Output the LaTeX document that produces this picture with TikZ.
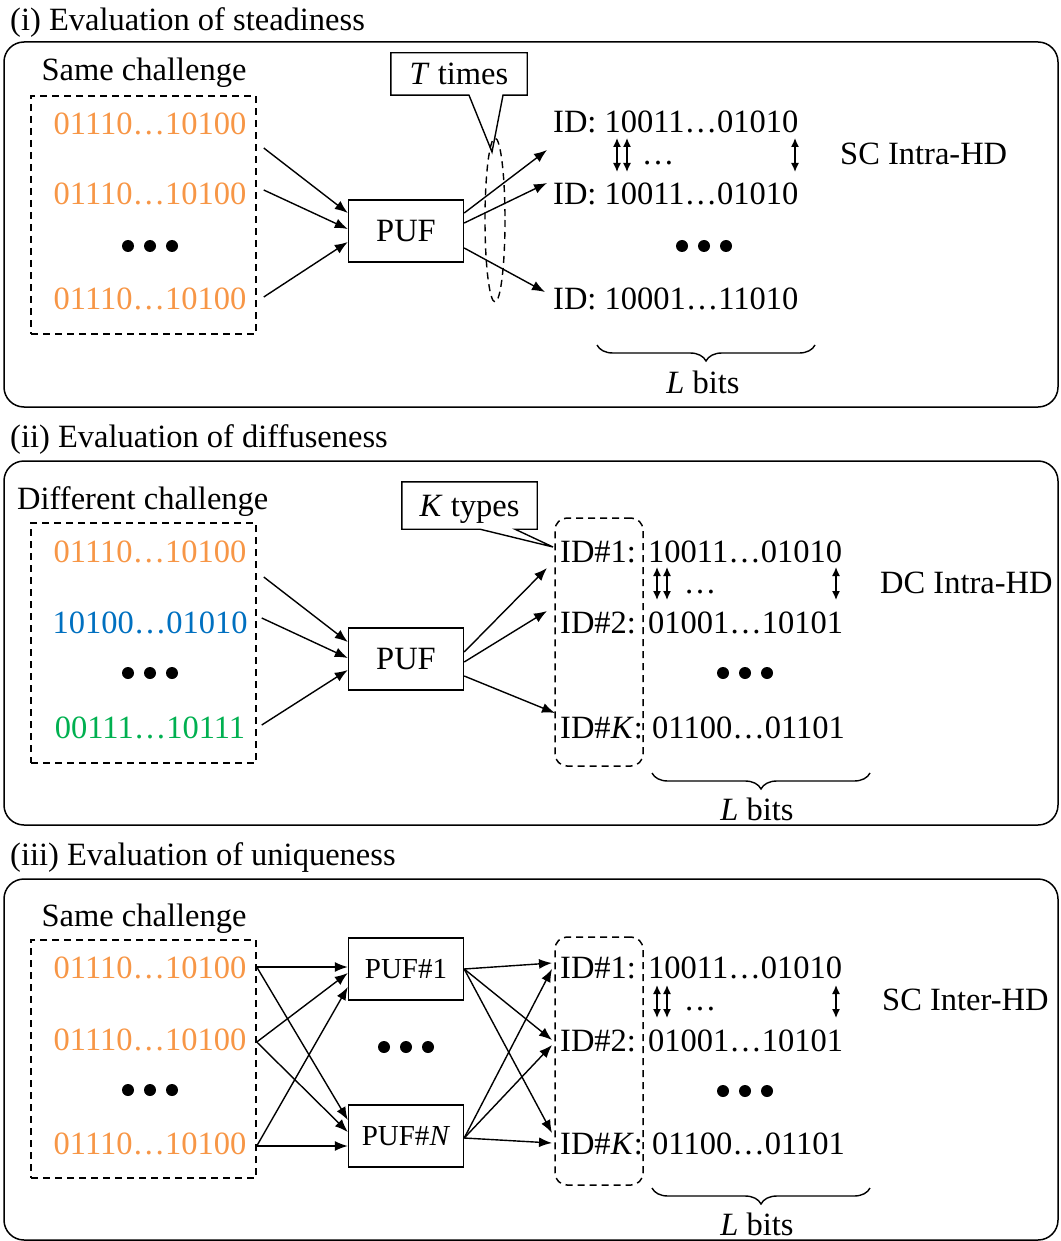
\documentclass[tikz,border=0pt]{standalone}
\usepackage{fontspec}
\setmainfont{Liberation Serif}
\usetikzlibrary{arrows.meta,decorations.pathreplacing}
\definecolor{bitorange}{HTML}{F79646}
\definecolor{bitblue}{HTML}{0070C0}
\definecolor{bitgreen}{HTML}{00B050}
\newcommand{\threedots}[1]{\foreach \dx in {-22,0,22} \fill ([xshift=\dx pt]#1) circle (6pt);}
\tikzset{
  panel/.style={line width=1.5pt,rounded corners=20pt},
  txt/.style={inner sep=0pt,anchor=base},
  chalbox/.style={draw,dashed,line width=1.5pt,dash pattern=on 7pt off 5pt,minimum width=225pt,inner sep=0pt},
  idbox/.style={draw,dashed,line width=1.5pt,dash pattern=on 7pt off 5pt,rounded corners=12pt,minimum width=88pt,inner sep=0pt},
  pufbox/.style={draw,line width=1.4pt,minimum width=115pt,minimum height=62pt,inner sep=0pt},
  callout/.style={inner sep=0pt,text depth=0pt},
  arr/.style={-{Latex[length=13pt,width=10pt]},line width=1.4pt},
  dbl/.style={{Latex[length=9pt,width=8pt]}-{Latex[length=9pt,width=8pt]},line width=1.4pt},
  lbrace/.style={decorate,decoration={brace,mirror,amplitude=16pt},line width=1.4pt}
}
\begin{document}
\begin{tikzpicture}[x=1pt,y=-1pt,font=\fontsize{32.5}{39}\selectfont]
    \useasboundingbox (0,0) rectangle (1060,1241);
    %% (i) steadiness
    \node[txt,anchor=base west] (tit1) at (10,31) {(i) Evaluation of steadiness};
    \draw[panel] (4,42) rectangle (1058,407);
    \node[txt] (same1) at (144,81) {Same challenge};
    \node[chalbox,minimum height=238pt] (chal1) at (143.5,215) {};
    \node[txt,text=bitorange] (c11) at (150,135) {01110…10100};
    \node[txt,text=bitorange] (c12) at (150,205) {01110…10100};
    \node[txt,text=bitorange] (c13) at (150,309) {01110…10100};
    \threedots{150,246}
    \node[pufbox] (puf1) at (406,231) {PUF};
    \draw[arr] ([xshift=7pt,yshift=67pt]chal1.east) -- ([yshift=18pt]puf1.west);
    \draw[arr] ([xshift=7pt,yshift=25pt]chal1.east) -- ([yshift=2pt]puf1.west);
    \draw[arr] ([xshift=7pt,yshift=-82pt]chal1.east) -- ([yshift=-11pt]puf1.west);
    \node[txt,anchor=base west] (id11) at (553,133) {ID: 10011…01010};
    \node[txt,anchor=base west] (id12) at (553,205) {ID: 10011…01010};
    \node[txt,anchor=base west] (id13) at (553,309) {ID: 10001…11010};
    \threedots{704,246}
    \draw[arr] ([yshift=18pt]puf1.east) -- ([xshift=-6pt,yshift=-17pt]id11.base west);
    \draw[arr] ([yshift=8pt]puf1.east) -- ([xshift=-6pt,yshift=22pt]id12.base west);
    \draw[arr] ([yshift=-17pt]puf1.east) -- ([xshift=-8pt,yshift=17pt]id13.base west);
    \draw[line width=1.4pt,dashed,dash pattern=on 7pt off 5pt] (495,220) ellipse [x radius=10, y radius=82];
    \node[callout,minimum width=136pt,minimum height=42pt] (ttimes) at (459,74) {\textit{T} times};
    \coordinate (ttip) at (492,152);
    \draw[line width=1.4pt] (ttimes.north west) -- (ttimes.north east) -- (ttimes.south east)
        -- ([xshift=44pt]ttimes.south) -- (ttip) -- ([xshift=10pt]ttimes.south) -- (ttimes.south west) -- cycle;
    \draw[dbl] (617,138) -- (617,172);
    \draw[dbl] (627,138) -- (627,172);
    \draw[dbl] (795,138) -- (795,172);
    \node[txt] (gap1) at (658,165) {…};
    \node[txt,anchor=base west] (hd1) at (840,165) {SC Intra-HD};
    \draw[lbrace] (597,345) -- (815,345);
    \node[txt] (bits1) at (703,393) {\textit{L} bits};
    %% (ii) diffuseness
    \node[txt,anchor=base west] (tit2) at (10,447) {(ii) Evaluation of diffuseness};
    \draw[panel] (4,461) rectangle (1058,825);
    \node[txt,anchor=base west] (diff2) at (17,509) {Different challenge};
    \node[chalbox,minimum height=240pt] (chal2) at (143.5,643) {};
    \node[txt,text=bitorange] (c21) at (150,562) {01110…10100};
    \node[txt,text=bitblue] (c22) at (150,633) {10100…01010};
    \node[txt,text=bitgreen] (c23) at (150,738) {00111…10111};
    \threedots{150,673}
    \node[pufbox] (puf2) at (406,659) {PUF};
    \draw[arr] ([xshift=7pt,yshift=66pt]chal2.east) -- ([yshift=17pt]puf2.west);
    \draw[arr] ([xshift=5pt,yshift=25pt]chal2.east) -- ([yshift=1pt]puf2.west);
    \draw[arr] ([xshift=5pt,yshift=-82pt]chal2.east) -- ([yshift=-11pt]puf2.west);
    \node[idbox,minimum height=248pt] (idb2) at (599,642) {};
    \node[txt,anchor=base west] (id21) at (560,562) {ID\#1:};
    \node[txt,anchor=base west] (id22) at (560,633) {ID\#2:};
    \node[txt,anchor=base west] (id23) at (560,738) {ID\#\textit{K}:};
    \node[txt,anchor=base west] (b21) at (648,562) {10011…01010};
    \node[txt,anchor=base west] (b22) at (648,633) {01001…10101};
    \node[txt,anchor=base west] (b23) at (652,738) {01100…01101};
    \threedots{745,673}
    \draw[arr] ([yshift=7pt]puf2.east) -- ([xshift=-13pt,yshift=-6pt]id21.base west);
    \draw[arr] ([yshift=-3pt]puf2.east) -- ([xshift=-13pt,yshift=22pt]id22.base west);
    \draw[arr] ([yshift=-17pt]puf2.east) -- ([xshift=-5pt,yshift=25pt]id23.base west);
    \node[callout,minimum width=135pt,minimum height=47pt] (ktypes) at (469.5,505.5) {\textit{K} types};
    \coordinate (ktip) at (553,547);
    \draw[line width=1.4pt] (ktypes.north west) -- (ktypes.north east) -- (ktypes.south east)
        -- ([xshift=45.5pt]ktypes.south) -- (ktip) -- ([xshift=10.5pt]ktypes.south) -- (ktypes.south west) -- cycle;
    \draw[dbl] (657,567) -- (657,600);
    \draw[dbl] (667,567) -- (667,600);
    \draw[dbl] (836,567) -- (836,600);
    \node[txt] (gap2) at (700,593) {…};
    \node[txt,anchor=base west] (hd2) at (880,593) {DC Intra-HD};
    \draw[lbrace] (652,773) -- (870,773);
    \node[txt] (bits2) at (757,820) {\textit{L} bits};
    %% (iii) uniqueness
    \node[txt,anchor=base west] (tit3) at (10,865) {(iii) Evaluation of uniqueness};
    \draw[panel] (4,879) rectangle (1058,1240);
    \node[txt] (same3) at (144,926) {Same challenge};
    \node[chalbox,minimum height=238pt] (chal3) at (143.5,1059) {};
    \node[txt,text=bitorange] (c31) at (150,978) {01110…10100};
    \node[txt,text=bitorange] (c32) at (150,1050) {01110…10100};
    \node[txt,text=bitorange] (c33) at (150,1154) {01110…10100};
    \threedots{150,1090}
    \node[pufbox,font=\fontsize{29}{35}\selectfont] (pufa) at (406,969) {PUF\#1};
    \node[pufbox,font=\fontsize{29}{35}\selectfont] (pufn) at (406,1136) {PUF\#\textit{N}};
    \threedots{406,1047}
    \draw[arr] ([yshift=92pt]chal3.east) -- ([yshift=2pt]pufa.west);
    \draw[arr] ([yshift=92pt]chal3.east) -- ([yshift=16pt]pufn.west);
    \draw[arr] ([yshift=17pt]chal3.east) -- ([yshift=-4pt]pufa.west);
    \draw[arr] ([yshift=17pt]chal3.east) -- ([yshift=4pt]pufn.west);
    \draw[arr] ([yshift=-87pt]chal3.east) -- ([yshift=-18pt]pufa.west);
    \draw[arr] ([yshift=-87pt]chal3.east) -- ([yshift=-10pt]pufn.west);
    \node[idbox,minimum height=248pt] (idb3) at (599,1061) {};
    \node[txt,anchor=base west] (id31) at (560,978) {ID\#1:};
    \node[txt,anchor=base west] (id32) at (560,1051) {ID\#2:};
    \node[txt,anchor=base west] (id33) at (560,1154) {ID\#\textit{K}:};
    \node[txt,anchor=base west] (b31) at (648,978) {10011…01010};
    \node[txt,anchor=base west] (b32) at (648,1051) {01001…10101};
    \node[txt,anchor=base west] (b33) at (652,1154) {01100…01101};
    \threedots{745,1091}
    \draw[arr] (pufa.east) -- ([xshift=-8pt,yshift=15pt]id31.base west);
    \draw[arr] (pufa.east) -- ([xshift=-8pt,yshift=11pt]id32.base west);
    \draw[arr] (pufa.east) -- ([xshift=-8pt,yshift=21pt]id33.base west);
    \draw[arr] ([yshift=-2pt]pufn.east) -- ([xshift=-8pt,yshift=9pt]id31.base west);
    \draw[arr] ([yshift=-2pt]pufn.east) -- ([xshift=-8pt,yshift=6pt]id32.base west);
    \draw[arr] ([yshift=-2pt]pufn.east) -- ([xshift=-8pt,yshift=11pt]id33.base west);
    \draw[dbl] (657,985) -- (657,1018);
    \draw[dbl] (667,985) -- (667,1018);
    \draw[dbl] (836,985) -- (836,1018);
    \node[txt] (gap3) at (700,1010) {…};
    \node[txt,anchor=base west] (hd3) at (882,1010) {SC Inter-HD};
    \draw[lbrace] (652,1188) -- (870,1188);
    \node[txt] (bits3) at (757,1235) {\textit{L} bits};
\end{tikzpicture}
\end{document}
